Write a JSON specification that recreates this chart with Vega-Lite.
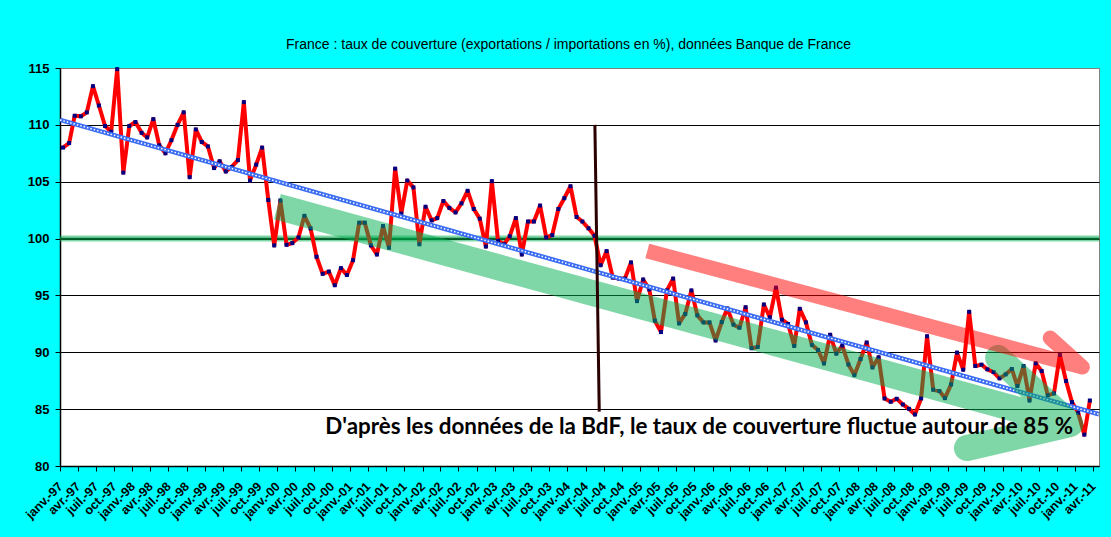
{
  "$schema": "https://vega.github.io/schema/vega-lite/v6.json",
  "autosize": {"type": "none"},
  "width": 1039,
  "height": 398,
  "padding": {"left": 60, "top": 68, "right": 12, "bottom": 71},
  "background": "#00ffff",
  "title": {
    "text": "France : taux de couverture  (exportations  / importations en %), données Banque de France",
    "font": "Liberation Sans",
    "fontSize": 14,
    "fontWeight": "normal",
    "color": "black",
    "anchor": "middle",
    "dx": -11,
    "offset": 10
  },
  "datasets": {
    "taux": [
      {"d": "1997-01-16", "v": 108.0}, {"d": "1997-02-16", "v": 108.4}, {"d": "1997-03-16", "v": 110.8}, {"d": "1997-04-16", "v": 110.75},
      {"d": "1997-05-16", "v": 111.1}, {"d": "1997-06-16", "v": 113.4}, {"d": "1997-07-16", "v": 111.7}, {"d": "1997-08-16", "v": 109.9},
      {"d": "1997-09-16", "v": 109.4}, {"d": "1997-10-16", "v": 114.9}, {"d": "1997-11-16", "v": 105.8}, {"d": "1997-12-16", "v": 109.9},
      {"d": "1998-01-16", "v": 110.25}, {"d": "1998-02-16", "v": 109.3}, {"d": "1998-03-16", "v": 108.9}, {"d": "1998-04-16", "v": 110.5},
      {"d": "1998-05-16", "v": 108.2}, {"d": "1998-06-16", "v": 107.5}, {"d": "1998-07-16", "v": 108.65}, {"d": "1998-08-16", "v": 110.0},
      {"d": "1998-09-16", "v": 111.1}, {"d": "1998-10-16", "v": 105.4}, {"d": "1998-11-16", "v": 109.6}, {"d": "1998-12-16", "v": 108.5},
      {"d": "1999-01-16", "v": 108.1}, {"d": "1999-02-16", "v": 106.2}, {"d": "1999-03-16", "v": 106.8}, {"d": "1999-04-16", "v": 105.9},
      {"d": "1999-05-16", "v": 106.3}, {"d": "1999-06-16", "v": 106.9}, {"d": "1999-07-16", "v": 112.0}, {"d": "1999-08-16", "v": 105.1},
      {"d": "1999-09-16", "v": 106.5}, {"d": "1999-10-16", "v": 108.0}, {"d": "1999-11-16", "v": 103.4}, {"d": "1999-12-16", "v": 99.4},
      {"d": "2000-01-16", "v": 103.35}, {"d": "2000-02-16", "v": 99.45}, {"d": "2000-03-16", "v": 99.6}, {"d": "2000-04-16", "v": 100.1},
      {"d": "2000-05-16", "v": 102.0}, {"d": "2000-06-16", "v": 100.9}, {"d": "2000-07-16", "v": 98.4}, {"d": "2000-08-16", "v": 96.9},
      {"d": "2000-09-16", "v": 97.1}, {"d": "2000-10-16", "v": 95.9}, {"d": "2000-11-16", "v": 97.4}, {"d": "2000-12-16", "v": 96.8},
      {"d": "2001-01-16", "v": 98.1}, {"d": "2001-02-16", "v": 101.4}, {"d": "2001-03-16", "v": 101.4}, {"d": "2001-04-16", "v": 99.4},
      {"d": "2001-05-16", "v": 98.6}, {"d": "2001-06-16", "v": 101.1}, {"d": "2001-07-16", "v": 99.2}, {"d": "2001-08-16", "v": 106.15},
      {"d": "2001-09-16", "v": 102.2}, {"d": "2001-10-16", "v": 105.1}, {"d": "2001-11-16", "v": 104.5}, {"d": "2001-12-16", "v": 99.5},
      {"d": "2002-01-16", "v": 102.8}, {"d": "2002-02-16", "v": 101.6}, {"d": "2002-03-16", "v": 101.8}, {"d": "2002-04-16", "v": 103.3},
      {"d": "2002-05-16", "v": 102.7}, {"d": "2002-06-16", "v": 102.3}, {"d": "2002-07-16", "v": 103.1}, {"d": "2002-08-16", "v": 104.2},
      {"d": "2002-09-16", "v": 102.6}, {"d": "2002-10-16", "v": 101.75}, {"d": "2002-11-16", "v": 99.3}, {"d": "2002-12-16", "v": 105.05},
      {"d": "2003-01-16", "v": 99.8}, {"d": "2003-02-16", "v": 99.5}, {"d": "2003-03-16", "v": 100.2}, {"d": "2003-04-16", "v": 101.8},
      {"d": "2003-05-16", "v": 98.6}, {"d": "2003-06-16", "v": 101.5}, {"d": "2003-07-16", "v": 101.5}, {"d": "2003-08-16", "v": 102.9},
      {"d": "2003-09-16", "v": 100.1}, {"d": "2003-10-16", "v": 100.3}, {"d": "2003-11-16", "v": 102.6}, {"d": "2003-12-16", "v": 103.55},
      {"d": "2004-01-16", "v": 104.6}, {"d": "2004-02-16", "v": 101.9}, {"d": "2004-03-16", "v": 101.5}, {"d": "2004-04-16", "v": 100.9},
      {"d": "2004-05-16", "v": 100.25}, {"d": "2004-06-16", "v": 97.66}, {"d": "2004-07-16", "v": 98.9}, {"d": "2004-08-16", "v": 96.57},
      {"d": "2004-09-16", "v": 96.48}, {"d": "2004-10-16", "v": 96.48}, {"d": "2004-11-16", "v": 97.9}, {"d": "2004-12-16", "v": 94.5},
      {"d": "2005-01-16", "v": 96.4}, {"d": "2005-02-16", "v": 95.53}, {"d": "2005-03-16", "v": 92.78}, {"d": "2005-04-16", "v": 91.78},
      {"d": "2005-05-16", "v": 95.44}, {"d": "2005-06-16", "v": 96.48}, {"d": "2005-07-16", "v": 92.54}, {"d": "2005-08-16", "v": 93.37},
      {"d": "2005-09-16", "v": 95.44}, {"d": "2005-10-16", "v": 93.25}, {"d": "2005-11-16", "v": 92.63}, {"d": "2005-12-16", "v": 92.63},
      {"d": "2006-01-16", "v": 91.04}, {"d": "2006-02-16", "v": 92.66}, {"d": "2006-03-16", "v": 93.85}, {"d": "2006-04-16", "v": 92.43},
      {"d": "2006-05-16", "v": 92.16}, {"d": "2006-06-16", "v": 93.96}, {"d": "2006-07-16", "v": 90.36}, {"d": "2006-08-16", "v": 90.47},
      {"d": "2006-09-16", "v": 94.2}, {"d": "2006-10-16", "v": 93.08}, {"d": "2006-11-16", "v": 95.68}, {"d": "2006-12-16", "v": 92.87},
      {"d": "2007-01-16", "v": 92.49}, {"d": "2007-02-16", "v": 90.56}, {"d": "2007-03-16", "v": 93.82}, {"d": "2007-04-16", "v": 92.63},
      {"d": "2007-05-16", "v": 90.65}, {"d": "2007-06-16", "v": 90.2}, {"d": "2007-07-16", "v": 89.02}, {"d": "2007-08-16", "v": 91.54},
      {"d": "2007-09-16", "v": 89.88}, {"d": "2007-10-16", "v": 90.59}, {"d": "2007-11-16", "v": 88.93}, {"d": "2007-12-16", "v": 87.99},
      {"d": "2008-01-16", "v": 89.41}, {"d": "2008-02-16", "v": 90.86}, {"d": "2008-03-16", "v": 88.67}, {"d": "2008-04-16", "v": 89.56},
      {"d": "2008-05-16", "v": 85.94}, {"d": "2008-06-16", "v": 85.65}, {"d": "2008-07-16", "v": 85.91}, {"d": "2008-08-16", "v": 85.41},
      {"d": "2008-09-16", "v": 85.03}, {"d": "2008-10-16", "v": 84.53}, {"d": "2008-11-16", "v": 85.94}, {"d": "2008-12-16", "v": 91.41},
      {"d": "2009-01-16", "v": 86.71}, {"d": "2009-02-16", "v": 86.59}, {"d": "2009-03-16", "v": 85.97}, {"d": "2009-04-16", "v": 87.18},
      {"d": "2009-05-16", "v": 89.97}, {"d": "2009-06-16", "v": 88.47}, {"d": "2009-07-16", "v": 93.56}, {"d": "2009-08-16", "v": 88.79},
      {"d": "2009-09-16", "v": 88.91}, {"d": "2009-10-16", "v": 88.5}, {"d": "2009-11-16", "v": 88.26}, {"d": "2009-12-16", "v": 87.71},
      {"d": "2010-01-16", "v": 88.06}, {"d": "2010-02-16", "v": 88.53}, {"d": "2010-03-16", "v": 87.03}, {"d": "2010-04-16", "v": 88.79},
      {"d": "2010-05-16", "v": 85.76}, {"d": "2010-06-16", "v": 89.03}, {"d": "2010-07-16", "v": 88.35}, {"d": "2010-08-16", "v": 86.21},
      {"d": "2010-09-16", "v": 86.38}, {"d": "2010-10-16", "v": 89.76}, {"d": "2010-11-16", "v": 87.47}, {"d": "2010-12-16", "v": 85.62},
      {"d": "2011-01-16", "v": 84.68}, {"d": "2011-02-16", "v": 82.76}, {"d": "2011-03-16", "v": 85.76}
    ],
    "seuil": [{"v": 100}],
    "fleche_verte": [
      {"k": 0, "d": "2000-01-01", "v": 102.81},
      {"k": 1, "d": "2010-12-07", "v": 83.69},
      {"k": 2, "d": "2009-12-09", "v": 89.5},
      {"k": 3, "d": "2010-12-07", "v": 83.69},
      {"k": 4, "d": "2009-07-05", "v": 81.58},
      {"k": 5, "d": "2010-12-07", "v": 83.69}
    ],
    "fleche_rouge": [
      {"k": 0, "d": "2005-02-06", "v": 98.91},
      {"k": 1, "d": "2011-02-06", "v": 88.71},
      {"k": 2, "d": "2010-08-28", "v": 91.26},
      {"k": 3, "d": "2011-02-06", "v": 88.71}
    ],
    "trait": [{"d": "2004-05-18", "d2": "2004-06-09", "v": 110.0, "v2": 84.78}],
    "note": [{"d": "2005-10-25", "v": 82.81, "txt": "D'après les données de la BdF, le taux de couverture fluctue autour de 85 %"}]
  },
  "layer": [
    {
      "data": {"name": "seuil"},
      "mark": {"type": "rule", "color": "#00b050", "opacity": 0.5, "strokeWidth": 6},
      "encoding": {"y": {"field": "v", "type": "quantitative", "title": null}}
    },
    {
      "data": {"name": "seuil"},
      "mark": {"type": "rule", "color": "#00662e", "strokeWidth": 1.5},
      "encoding": {"y": {"field": "v", "type": "quantitative", "title": null}}
    },
    {
      "data": {"name": "taux"},
      "mark": {"type": "line", "color": "#ff0000", "strokeWidth": 4, "strokeJoin": "round"},
      "encoding": {
        "x": {
          "field": "d",
          "type": "temporal",
          "title": null,
          "scale": {
            "type": "utc",
            "nice": false,
            "domain": [
              {"year": 1997, "month": 1, "date": 1, "utc": true},
              {"year": 2011, "month": 5, "date": 1, "utc": true}
            ]
          },
          "axis": {
            "grid": false,
            "tickCount": {"interval": "month", "step": 3},
            "labelExpr": "['janv.','févr.','mars','avr.','mai','juin','juil.','août','sept.','oct.','nov.','déc.'][utcmonth(datum.value)] + '-' + utcFormat(datum.value, '%y')",
            "labelAngle": -45,
            "labelAlign": "right",
            "labelBaseline": "middle",
            "labelOverlap": false,
            "labelFlush": false,
            "labelPadding": 13,
            "labelFont": "Liberation Sans",
            "labelFontSize": 12.5,
            "labelFontWeight": "bold",
            "labelColor": "black",
            "tickColor": "black",
            "tickSize": 5,
            "domainColor": "black",
            "domainWidth": 1.5
          }
        },
        "y": {
          "field": "v",
          "type": "quantitative",
          "title": null,
          "scale": {"domain": [80, 115], "nice": false, "zero": false},
          "axis": {
            "values": [80, 85, 90, 95, 100, 105, 110, 115],
            "grid": true,
            "gridColor": {"condition": {"test": "datum.value === 115", "value": "#808080"}, "value": "black"},
            "gridOpacity": 1,
            "gridWidth": 1,
            "labelFont": "Liberation Sans",
            "labelFontSize": 13,
            "labelFontWeight": "bold",
            "labelColor": "black",
            "labelPadding": 6,
            "tickColor": "black",
            "tickSize": 5,
            "domainColor": "black",
            "domainWidth": 1.5
          }
        }
      }
    },
    {
      "data": {"name": "taux"},
      "mark": {"type": "point", "filled": true, "shape": "square", "color": "#000080", "size": 16, "opacity": 1},
      "encoding": {
        "x": {"field": "d", "type": "temporal", "title": null, "scale": {"type": "utc"}},
        "y": {"field": "v", "type": "quantitative", "title": null}
      }
    },
    {
      "data": {"name": "taux"},
      "transform": [{"regression": "v", "on": "d", "extent": [852076800000, 1304208000000]}],
      "mark": {"type": "line", "color": "#3a6cf4", "strokeWidth": 4.5},
      "encoding": {
        "x": {"field": "d", "type": "temporal", "title": null, "scale": {"type": "utc"}},
        "y": {"field": "v", "type": "quantitative", "title": null}
      }
    },
    {
      "data": {"name": "taux"},
      "transform": [{"regression": "v", "on": "d", "extent": [852076800000, 1304208000000]}],
      "mark": {"type": "line", "color": "white", "strokeWidth": 1.5, "strokeDash": [1.5, 2]},
      "encoding": {
        "x": {"field": "d", "type": "temporal", "title": null, "scale": {"type": "utc"}},
        "y": {"field": "v", "type": "quantitative", "title": null}
      }
    },
    {
      "data": {"name": "fleche_verte"},
      "mark": {"type": "line", "color": "#00b050", "opacity": 0.5, "strokeWidth": 26, "strokeCap": "butt", "strokeJoin": "round"},
      "encoding": {
        "x": {"field": "d", "type": "temporal", "title": null, "scale": {"type": "utc"}},
        "y": {"field": "v", "type": "quantitative", "title": null},
        "order": {"field": "k", "type": "quantitative"}
      }
    },
    {
      "data": {"name": "fleche_rouge"},
      "mark": {"type": "line", "color": "#ff0000", "opacity": 0.5, "strokeWidth": 15, "strokeCap": "butt", "strokeJoin": "round"},
      "encoding": {
        "x": {"field": "d", "type": "temporal", "title": null, "scale": {"type": "utc"}},
        "y": {"field": "v", "type": "quantitative", "title": null},
        "order": {"field": "k", "type": "quantitative"}
      }
    },
    {
      "data": {"name": "trait"},
      "mark": {"type": "rule", "color": "#2a0000", "strokeWidth": 3},
      "encoding": {
        "x": {"field": "d", "type": "temporal", "title": null, "scale": {"type": "utc"}},
        "x2": {"field": "d2"},
        "y": {"field": "v", "type": "quantitative", "title": null},
        "y2": {"field": "v2"}
      }
    },
    {
      "data": {"name": "note"},
      "mark": {"type": "text", "font": "Lato", "fontSize": 22.4, "fontWeight": "bold", "color": "black", "align": "center", "baseline": "alphabetic"},
      "encoding": {
        "x": {"field": "d", "type": "temporal", "title": null, "scale": {"type": "utc"}},
        "y": {"field": "v", "type": "quantitative", "title": null},
        "text": {"field": "txt"}
      }
    }
  ],
  "config": {
    "view": {"fill": "white", "stroke": "#808080", "strokeWidth": 1}
  }
}
